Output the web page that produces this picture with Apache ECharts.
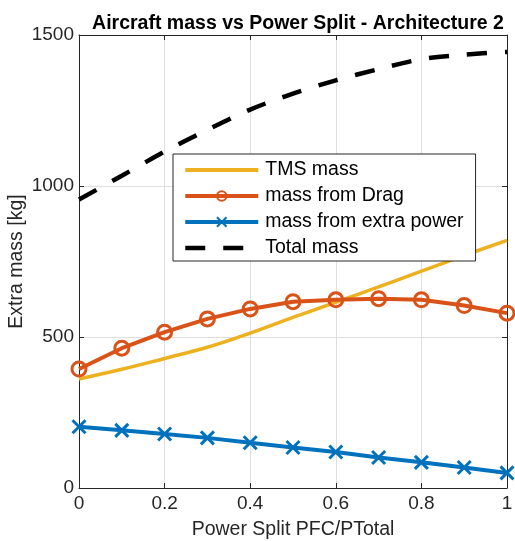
<!DOCTYPE html>
<html><head><meta charset="utf-8">
<script src="https://cdn.jsdelivr.net/npm/echarts@6/dist/echarts.min.js"></script>
<style>html,body{margin:0;padding:0;background:#fff}#c{width:515px;height:541px}</style>
</head><body><div id="c"></div>
<script>
const powerSplit = [0, 0.1, 0.2, 0.3, 0.4, 0.5, 0.6, 0.7, 0.8, 0.9, 1.0];
const tmsMass = [361, 393, 429, 466, 513, 565, 615, 666, 718, 770, 820];
const dragMass = [394, 463, 516, 560, 593, 617, 623, 627, 623, 604, 579];
const powerMass = [203, 191, 179, 166, 150, 134, 119, 101, 85, 68, 50];
const totalMass = [955, 1034, 1114, 1186, 1253, 1306, 1350, 1387, 1420, 1435, 1444];
const xTicks = [0, 0.2, 0.4, 0.6, 0.8, 1];
const yTicks = [0, 500, 1000, 1500];

const font = 'Liberation Sans';
const axisCol = '#262626';
const pair = a => powerSplit.map((x, i) => [x, a[i]]);
const xMarker = 'path://M0,0L10,10M10,0L0,10';

const chart = echarts.init(document.getElementById('c'), null, {renderer: 'canvas'});
const baseX = {
  type: 'value', min: 0, max: 1, interval: 0.2,
  axisLine: {show: true, onZero: false, lineStyle: {color: axisCol, width: 1}},
  axisTick: {show: true, inside: true, length: 5, lineStyle: {color: axisCol}},
};
const baseY = {
  type: 'value', min: 0, max: 1500, interval: 500,
  axisLine: {show: true, onZero: false, lineStyle: {color: axisCol, width: 1}},
  axisTick: {show: true, inside: true, length: 5, lineStyle: {color: axisCol}},
};
chart.setOption({
  animation: false,
  title: {
    text: 'Aircraft mass vs Power Split - Architecture 2',
    left: 293, top: 9, textAlign: 'center',
    textStyle: {fontFamily: font, fontSize: 19.5, fontWeight: 'bold', color: '#000'}
  },
  grid: {left: 79, right: 8, top: 35, bottom: 53, containLabel: false, outerBoundsMode: 'none'},
  legend: {
    show: true, orient: 'vertical', left: 173, top: 154,
    backgroundColor: '#fff', borderColor: axisCol, borderWidth: 1,
    padding: [6, 12, 3, 10], itemGap: 6, itemWidth: 73, itemHeight: 12,
    textStyle: {fontFamily: font, fontSize: 19.5, color: '#000', padding: [0, 0, 0, 2]},
    data: [
      {name: 'TMS mass', itemStyle: {opacity: 0}, lineStyle: {width: 4}},
      {name: 'mass from Drag', lineStyle: {width: 4}},
      {name: 'mass from extra power', lineStyle: {width: 4}},
      {name: 'Total mass', itemStyle: {opacity: 0}, lineStyle: {width: 4.5}}
    ]
  },
  xAxis: [
    Object.assign({}, baseX, {
      position: 'bottom',
      name: 'Power Split PFC/PTotal', nameLocation: 'middle', nameGap: 32, nameMoveOverlap: false,
      nameTextStyle: {fontFamily: font, fontSize: 19.5, color: axisCol},
      axisLabel: {fontFamily: font, fontSize: 19, color: axisCol, margin: 6,
        formatter: v => xTicks.includes(+v.toFixed(1)) ? String(+v.toFixed(1)) : ''},
      splitLine: {show: true, lineStyle: {color: '#dfdfdf', width: 1}}
    }),
    Object.assign({}, baseX, {position: 'top', axisLabel: {show: false}, splitLine: {show: false}})
  ],
  yAxis: [
    Object.assign({}, baseY, {
      position: 'left',
      name: 'Extra mass [kg]', nameLocation: 'middle', nameGap: 52, nameRotate: 90, nameMoveOverlap: false,
      nameTextStyle: {fontFamily: font, fontSize: 19.5, color: axisCol},
      axisLabel: {fontFamily: font, fontSize: 19, color: axisCol, margin: 5,
        formatter: v => yTicks.includes(v) ? String(v) : ''},
      splitLine: {show: true, lineStyle: {color: '#dfdfdf', width: 1}}
    }),
    Object.assign({}, baseY, {position: 'right', axisLabel: {show: false}, splitLine: {show: false}})
  ],
  series: [
    {
      name: 'TMS mass', type: 'line', data: pair(tmsMass), smooth: 0.4,
      showSymbol: false, symbol: 'none', color: '#EDB120',
      lineStyle: {color: '#EDB120', width: 3.5}, z: 2
    },
    {
      name: 'mass from Drag', type: 'line', data: pair(dragMass),
      symbol: 'circle', symbolSize: 14, color: '#D95319',
      itemStyle: {color: 'rgba(0,0,0,0)', borderColor: '#D95319', borderWidth: 3},
      lineStyle: {color: '#D95319', width: 4}, z: 3
    },
    {
      name: 'mass from extra power', type: 'line', data: pair(powerMass),
      symbol: xMarker, symbolSize: 13, color: '#0072BD',
      itemStyle: {color: 'rgba(0,0,0,0)', borderColor: '#0072BD', borderWidth: 3},
      lineStyle: {color: '#0072BD', width: 4}, z: 4
    },
    {
      name: 'Total mass', type: 'line', data: pair(totalMass), smooth: 0.3,
      symbol: 'none', color: '#000',
      lineStyle: {color: '#000', width: 4.5, type: [20, 18]}, z: 5
    }
  ]
});
</script></body></html>
